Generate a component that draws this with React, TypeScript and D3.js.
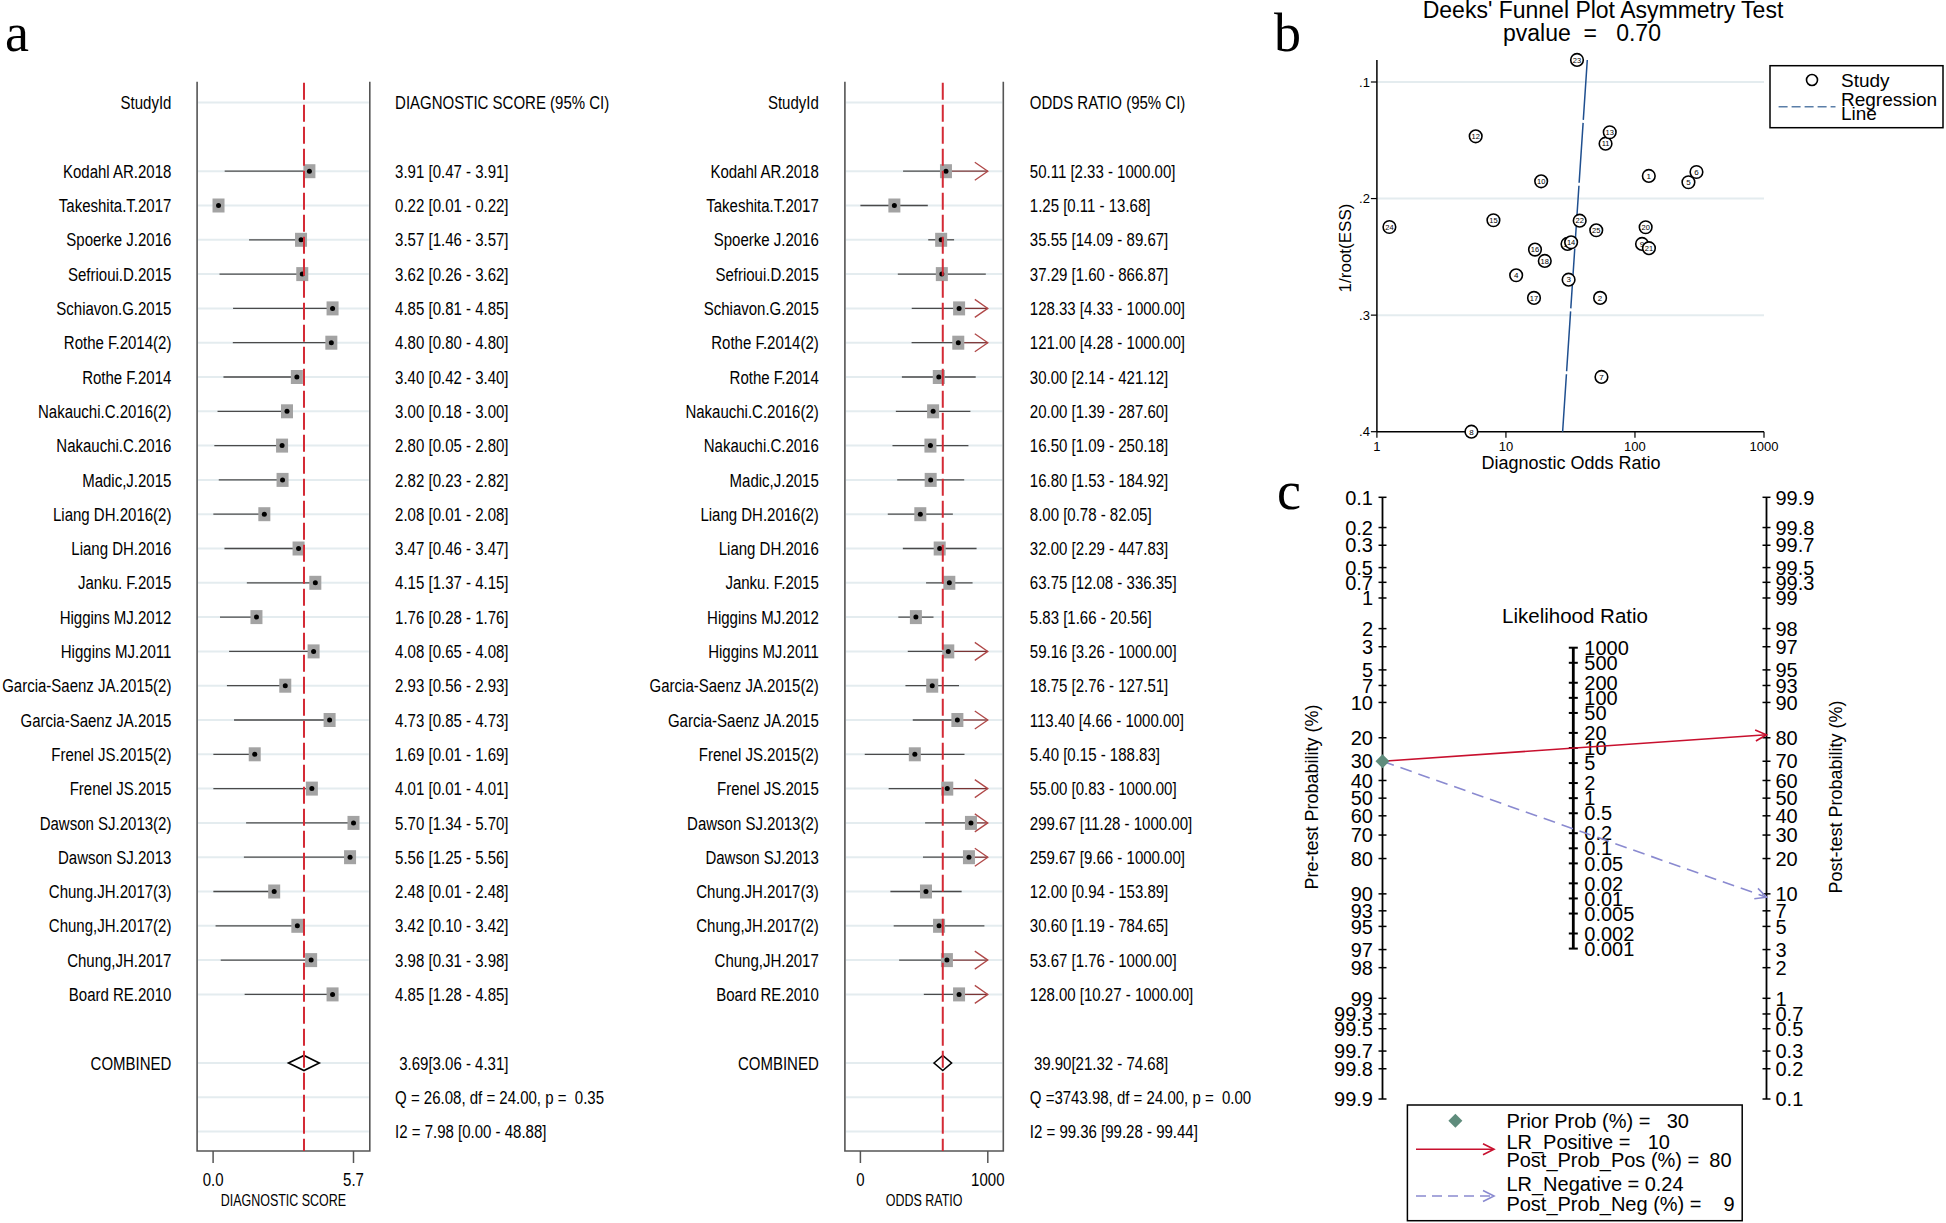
import React from "react";
import * as d3 from "d3";

// ---------------- DATA ----------------
const studyIds = [
  "Kodahl AR.2018", "Takeshita.T.2017", "Spoerke J.2016", "Sefrioui.D.2015", "Schiavon.G.2015",
  "Rothe F.2014(2)", "Rothe F.2014", "Nakauchi.C.2016(2)", "Nakauchi.C.2016", "Madic,J.2015",
  "Liang DH.2016(2)", "Liang DH.2016", "Janku. F.2015", "Higgins MJ.2012", "Higgins MJ.2011",
  "Garcia-Saenz JA.2015(2)", "Garcia-Saenz JA.2015", "Frenel JS.2015(2)", "Frenel JS.2015",
  "Dawson SJ.2013(2)", "Dawson SJ.2013", "Chung.JH.2017(3)", "Chung,JH.2017(2)", "Chung,JH.2017",
  "Board RE.2010",
];
const dsEst = [3.91, 0.22, 3.57, 3.62, 4.85, 4.80, 3.40, 3.00, 2.80, 2.82, 2.08, 3.47, 4.15, 1.76, 4.08, 2.93, 4.73, 1.69, 4.01, 5.70, 5.56, 2.48, 3.42, 3.98, 4.85];
const dsLow = [0.47, 0.01, 1.46, 0.26, 0.81, 0.80, 0.42, 0.18, 0.05, 0.23, 0.01, 0.46, 1.37, 0.28, 0.65, 0.56, 0.85, 0.01, 0.01, 1.34, 1.25, 0.01, 0.10, 0.31, 1.28];
const dsHigh = [3.91, 0.22, 3.57, 3.62, 4.85, 4.80, 3.40, 3.00, 2.80, 2.82, 2.08, 3.47, 4.15, 1.76, 4.08, 2.93, 4.73, 1.69, 4.01, 5.70, 5.56, 2.48, 3.42, 3.98, 4.85];
const dsCombined = [3.69, 3.06, 4.31];
const dsStats = ["Q = 26.08, df = 24.00, p =  0.35", "I2 = 7.98 [0.00 - 48.88]"];
const dsTickValues = [0, 5.7];
const dsTickLabels = ["0.0", "5.7"];

const orEst = [50.11, 1.25, 35.55, 37.29, 128.33, 121.00, 30.00, 20.00, 16.50, 16.80, 8.00, 32.00, 63.75, 5.83, 59.16, 18.75, 113.40, 5.40, 55.00, 299.67, 259.67, 12.00, 30.60, 53.67, 128.00];
const orLow = [2.33, 0.11, 14.09, 1.60, 4.33, 4.28, 2.14, 1.39, 1.09, 1.53, 0.78, 2.29, 12.08, 1.66, 3.26, 2.76, 4.66, 0.15, 0.83, 11.28, 9.66, 0.94, 1.19, 1.76, 10.27];
const orHigh = [1000, 13.68, 89.67, 866.87, 1000, 1000, 421.12, 287.60, 250.18, 184.92, 82.05, 447.83, 336.35, 20.56, 1000, 127.51, 1000, 188.83, 1000, 1000, 1000, 153.89, 784.65, 1000, 1000];
const orCombined = [39.90, 21.32, 74.68];
const orStats = ["Q =3743.98, df = 24.00, p =  0.00", "I2 = 99.36 [99.28 - 99.44]"];
const orTickValues = [0.11, 1000];
const orTickLabels = ["0", "1000"];

// Deeks' funnel plot (study numbers 1..25)
const funnelDOR = [128.00, 53.67, 30.60, 12.00, 259.67, 299.67, 55.00, 5.40, 113.40, 18.75, 59.16, 5.83, 63.75, 32.00, 8.00, 16.80, 16.50, 20.00, 30.00, 121.00, 128.33, 37.29, 35.55, 1.25, 50.11];
const funnelInvRootESS = [0.1806, 0.2852, 0.2696, 0.2658, 0.1860, 0.1772, 0.3530, 0.400, 0.2389, 0.1852, 0.1529, 0.1466, 0.1431, 0.2375, 0.2186, 0.2438, 0.2852, 0.2535, 0.2389, 0.2246, 0.2426, 0.2190, 0.0811, 0.2244, 0.2272];
const regressionDOR = [42.7, 27.5];
const regressionY = [0.0811, 0.4];
const funnelXTicks = [1, 10, 100, 1000];
const funnelYTicks = [0.1, 0.2, 0.3, 0.4];
const funnelYTickLabels = [".1", ".2", ".3", ".4"];
const pValue = "0.70";

// Fagan nomogram
const preTicks = [0.1, 0.2, 0.3, 0.5, 0.7, 1, 2, 3, 5, 7, 10, 20, 30, 40, 50, 60, 70, 80, 90, 93, 95, 97, 98, 99, 99.3, 99.5, 99.7, 99.8, 99.9];
const postTicks = [99.9, 99.8, 99.7, 99.5, 99.3, 99, 98, 97, 95, 93, 90, 80, 70, 60, 50, 40, 30, 20, 10, 7, 5, 3, 2, 1, 0.7, 0.5, 0.3, 0.2, 0.1];
const lrTicks = [1000, 500, 200, 100, 50, 20, 10, 5, 2, 1, 0.5, 0.2, 0.1, 0.05, 0.02, 0.01, 0.005, 0.002, 0.001];
const priorProb = 30;
const lrPositive = 10;
const lrNegative = 0.24;
const postProbPos = 80;
const postProbNeg = 9;

// ---------------- STYLE ----------------
const SANS = "'Liberation Sans',Arial,Helvetica,sans-serif";
const SERIF = "'Liberation Serif','Times New Roman',serif";
const GRID = "#e4ecef";
const RED = "#d42a35";
const NARROW_K = 0.79;

const rowY = d3.scaleLinear().domain([0, 30]).range([102.6, 1131.6]);

function NText(props: { x: number; y: number; size: number; anchor?: string; children: any; pre?: boolean }) {
  return (
    <text
      transform={`translate(${props.x},${props.y}) scale(${NARROW_K},1)`}
      dy="0.35em"
      textAnchor={props.anchor || "start"}
      fontFamily={SANS}
      fontSize={props.size}
      style={props.pre ? { whiteSpace: "pre" } : undefined}
    >
      {props.children}
    </text>
  );
}

type ForestProps = {
  x: any;
  frameL: number;
  frameR: number;
  labelX: number;
  textX: number;
  combTextX: number;
  header: string;
  axisTitle: string;
  est: number[];
  low: number[];
  high: number[];
  comb: number[];
  stats: string[];
  tickValues: number[];
  tickLabels: string[];
  cap: number;
};

function Forest(p: ForestProps) {
  const top = 81.7;
  const bottom = 1151;
  const FS = 19;
  const fmt = (v: number) => v.toFixed(2);
  const gridRows = [0, ...studyIds.map((_, i) => i + 2), 28, 29, 30];
  const cy = rowY(28);
  const cx = p.x(p.comb[0]);
  const cl = p.x(p.comb[1]);
  const cr = p.x(p.comb[2]);
  return (
    <g>
      {gridRows.map((r) => (
        <line key={"g" + r} x1={p.frameL + 1} x2={p.frameR - 1} y1={rowY(r)} y2={rowY(r)} stroke={GRID} strokeWidth={2} />
      ))}
      <path d={`M${p.frameL},${top}V${bottom}H${p.frameR}V${top}`} fill="none" stroke="#555" strokeWidth={1.6} />
      <NText x={p.labelX} y={rowY(0)} size={FS} anchor="end">StudyId</NText>
      <NText x={p.textX} y={rowY(0)} size={FS}>{p.header}</NText>
      {studyIds.map((s, i) => {
        const y = rowY(i + 2);
        const xe = p.x(p.est[i]);
        const xl = p.x(p.low[i]);
        const capped = p.high[i] >= p.cap;
        const xh = p.x(Math.min(p.high[i], p.cap));
        return (
          <g key={s}>
            <NText x={p.labelX} y={y} size={FS} anchor="end">{s}</NText>
            <NText x={p.textX} y={y} size={FS}>{`${fmt(p.est[i])} [${fmt(p.low[i])} - ${fmt(p.high[i])}]`}</NText>
            {capped ? (
              <g>
                <line x1={xl} x2={xe} y1={y} y2={y} stroke="#4a4a4a" strokeWidth={1.3} />
                <line x1={xe} x2={xh} y1={y} y2={y} stroke="#7a3434" strokeWidth={1.3} />
                <path d={`M${xh - 13},${y - 9}L${xh},${y}L${xh - 13},${y + 9}`} fill="none" stroke="#b04848" strokeWidth={1.3} />
              </g>
            ) : (
              <line x1={xl} x2={xh} y1={y} y2={y} stroke="#4a4a4a" strokeWidth={1.3} />
            )}
            <rect x={xe - 6} y={y - 7} width={12} height={14} fill="#a3a3a3" />
            <circle cx={xe} cy={y} r={2.5} fill="#000" />
          </g>
        );
      })}
      <NText x={p.labelX} y={cy} size={FS} anchor="end">COMBINED</NText>
      <path d={`M${cl},${cy}L${cx},${cy - 7.5}L${cr},${cy}L${cx},${cy + 7.5}Z`} fill="#fff" stroke="#000" strokeWidth={1.6} />
      <NText x={p.combTextX} y={cy} size={FS}>{`${fmt(p.comb[0])}[${fmt(p.comb[1])} - ${fmt(p.comb[2])}]`}</NText>
      {p.stats.map((s, k) => (
        <NText key={s} x={p.textX} y={rowY(29 + k)} size={FS} pre>{s}</NText>
      ))}
      <line x1={cx} x2={cx} y1={top + 1} y2={bottom} stroke={RED} strokeWidth={2} strokeDasharray="17 5" />
      {p.tickValues.map((v, k) => (
        <g key={"t" + k}>
          <line x1={p.x(v)} x2={p.x(v)} y1={bottom} y2={bottom + 12} stroke="#555" strokeWidth={1.5} />
          <NText x={p.x(v)} y={1179} size={FS} anchor="middle">{p.tickLabels[k]}</NText>
        </g>
      ))}
      <NText x={(p.frameL + p.frameR) / 2} y={1200} size={15.8} anchor="middle">{p.axisTitle}</NText>
    </g>
  );
}

function Funnel() {
  const x = d3.scaleLog().domain([1, 1000]).range([1376.9, 1764]);
  const y = d3.scaleLinear().domain([0.1, 0.4]).range([82, 431.7]);
  const yTop = y(0.0811);
  const order = d3.range(25).sort((a, b) => (a === 13 ? 1 : b === 13 ? -1 : a - b));
  const reg = d3.line<number>().x((i) => x(regressionDOR[i])).y((i) => y(regressionY[i]));
  return (
    <g>
      <text x={1603} y={18} textAnchor="middle" fontFamily={SANS} fontSize={23}>Deeks' Funnel Plot Asymmetry Test</text>
      <text x={1503} y={41} fontFamily={SANS} fontSize={23} style={{ whiteSpace: "pre" }}>{`pvalue  =   ${pValue}`}</text>
      {funnelYTicks.slice(0, 3).map((t) => (
        <line key={t} x1={x(1)} x2={x(1000)} y1={y(t)} y2={y(t)} stroke={GRID} strokeWidth={2} />
      ))}
      <line x1={x(1)} x2={x(1)} y1={yTop} y2={y(0.4)} stroke="#000" strokeWidth={1.5} />
      <line x1={x(1)} x2={x(1000)} y1={y(0.4)} y2={y(0.4)} stroke="#000" strokeWidth={1.5} />
      {funnelYTicks.map((t, k) => (
        <g key={"yt" + t}>
          <line x1={x(1) - 6} x2={x(1)} y1={y(t)} y2={y(t)} stroke="#000" strokeWidth={1.2} />
          <text x={x(1) - 7} y={y(t)} dy="0.35em" textAnchor="end" fontFamily={SANS} fontSize={13}>{funnelYTickLabels[k]}</text>
        </g>
      ))}
      {funnelXTicks.map((t) => (
        <g key={"xt" + t}>
          <line x1={x(t)} x2={x(t)} y1={y(0.4)} y2={y(0.4) + 6} stroke="#000" strokeWidth={1.2} />
          <text x={x(t)} y={446} dy="0.35em" textAnchor="middle" fontFamily={SANS} fontSize={13}>{t}</text>
        </g>
      ))}
      <text x={1571} y={463} dy="0.35em" textAnchor="middle" fontFamily={SANS} fontSize={18}>Diagnostic Odds Ratio</text>
      <text transform={`translate(1345,248) rotate(-90)`} dy="0.35em" textAnchor="middle" fontFamily={SANS} fontSize={17}>1/root(ESS)</text>
      <path d={reg([0, 1]) || ""} fill="none" stroke="#1f4f8f" strokeWidth={1.5} strokeDasharray="60 3" />
      {order.map((i) => (
        <g key={"pt" + i}>
          <circle cx={x(funnelDOR[i])} cy={y(funnelInvRootESS[i])} r={6.3} fill="#fff" stroke="#000" strokeWidth={1.6} />
          <text x={x(funnelDOR[i])} y={y(funnelInvRootESS[i])} dy="0.35em" textAnchor="middle" fontFamily={SANS} fontSize={i + 1 >= 10 ? 7.5 : 8}>{i + 1}</text>
        </g>
      ))}
      <rect x={1770} y={65.7} width={173} height={62} fill="#fff" stroke="#000" strokeWidth={1.5} />
      <circle cx={1812} cy={80} r={5.5} fill="#fff" stroke="#000" strokeWidth={1.6} />
      <text x={1841} y={80} dy="0.35em" fontFamily={SANS} fontSize={19}>Study</text>
      <line x1={1778.6} x2={1835.5} y1={106.7} y2={106.7} stroke="#5a7ea8" strokeWidth={1.5} strokeDasharray="9 4" />
      <text x={1841} y={99} dy="0.35em" fontFamily={SANS} fontSize={19}>Regression</text>
      <text x={1841} y={113} dy="0.35em" fontFamily={SANS} fontSize={19}>Line</text>
    </g>
  );
}

function Fagan() {
  const xL = 1382.5;
  const xM = 1573.3;
  const xR = 1766.5;
  const lg = d3.scaleLinear().domain([-Math.log(999), Math.log(999)]).range([497.3, 1099]);
  const logit = (pct: number) => Math.log(pct / (100 - pct));
  const yPre = (pct: number) => lg(logit(pct));
  const yPost = (pct: number) => lg(-logit(pct));
  const yLR = (lr: number) => lg(-Math.log(lr) / 2);
  const postFrom = (lr: number) => {
    const o = (priorProb / (100 - priorProb)) * lr;
    return (100 * o) / (1 + o);
  };
  const y0 = yPre(priorProb);
  const yPos = yPost(postFrom(lrPositive));
  const yNeg = yPost(postFrom(lrNegative));
  const chevron = (tx: number, ty: number, ang: number) => {
    const L = 11, H = 5.5;
    const c = Math.cos(ang), s = Math.sin(ang);
    const p1 = [tx - L * c + H * s, ty - L * s - H * c];
    const p2 = [tx - L * c - H * s, ty - L * s + H * c];
    return `M${p1[0]},${p1[1]}L${tx},${ty}L${p2[0]},${p2[1]}`;
  };
  const angPos = Math.atan2(yPos - y0, xR - xL);
  const angNeg = Math.atan2(yNeg - y0, xR - xL);
  const FS = 20;
  return (
    <g>
      <line x1={xL} x2={xL} y1={yPre(0.1)} y2={yPre(99.9)} stroke="#000" strokeWidth={1.8} />
      <line x1={xR} x2={xR} y1={yPost(99.9)} y2={yPost(0.1)} stroke="#000" strokeWidth={1.8} />
      <line x1={xM} x2={xM} y1={yLR(1000)} y2={yLR(0.001)} stroke="#000" strokeWidth={2.8} />
      {preTicks.map((t) => (
        <g key={"pre" + t}>
          <line x1={xL - 4} x2={xL + 4} y1={yPre(t)} y2={yPre(t)} stroke="#000" strokeWidth={1.5} />
          <text x={xL - 9.5} y={yPre(t)} dy="0.36em" textAnchor="end" fontFamily={SANS} fontSize={FS}>{t}</text>
        </g>
      ))}
      {postTicks.map((t) => (
        <g key={"post" + t}>
          <line x1={xR - 4} x2={xR + 4} y1={yPost(t)} y2={yPost(t)} stroke="#000" strokeWidth={1.5} />
          <text x={xR + 9} y={yPost(t)} dy="0.36em" fontFamily={SANS} fontSize={FS}>{t}</text>
        </g>
      ))}
      {lrTicks.map((t) => (
        <g key={"lr" + t}>
          <line x1={xM - 4.5} x2={xM + 4.5} y1={yLR(t)} y2={yLR(t)} stroke="#000" strokeWidth={2} />
          <text x={xM + 11} y={yLR(t)} dy="0.36em" fontFamily={SANS} fontSize={FS}>{t}</text>
        </g>
      ))}
      <text x={1575} y={616} dy="0.35em" textAnchor="middle" fontFamily={SANS} fontSize={20.5}>Likelihood Ratio</text>
      <text transform="translate(1312,797) rotate(-90)" dy="0.35em" textAnchor="middle" fontFamily={SANS} fontSize={18}>Pre-test Probability (%)</text>
      <text transform="translate(1836,797) rotate(-90)" dy="0.35em" textAnchor="middle" fontFamily={SANS} fontSize={18}>Post-test Probability (%)</text>
      <line x1={xL} y1={y0} x2={xR} y2={yPos} stroke="#c8102e" strokeWidth={1.6} />
      <path d={chevron(xR, yPos, angPos)} fill="none" stroke="#c8102e" strokeWidth={1.6} />
      <line x1={xL} y1={y0} x2={xR} y2={yNeg} stroke="#8a8ad0" strokeWidth={1.6} strokeDasharray="12 7" />
      <path d={chevron(xR, yNeg, angNeg)} fill="none" stroke="#8a8ad0" strokeWidth={1.6} />
      <path d={`M${xL},${y0 - 7}L${xL + 7},${y0}L${xL},${y0 + 7}L${xL - 7},${y0}Z`} fill="#5f8c7c" />
      <rect x={1407.4} y={1105} width={334.8} height={115.7} fill="#fff" stroke="#000" strokeWidth={1.5} />
      <path d={`M1455.4,1113.7L1462.4,1120.7L1455.4,1127.7L1448.4,1120.7Z`} fill="#5f8c7c" />
      <line x1={1416} x2={1493} y1={1149.3} y2={1149.3} stroke="#c8102e" strokeWidth={1.6} />
      <path d={chevron(1494, 1149.3, 0)} fill="none" stroke="#c8102e" strokeWidth={1.6} />
      <line x1={1416} x2={1493} y1={1196} y2={1196} stroke="#8a8ad0" strokeWidth={1.6} strokeDasharray="10 6" />
      <path d={chevron(1494, 1196, 0)} fill="none" stroke="#8a8ad0" strokeWidth={1.6} />
      <g fontFamily={SANS} fontSize={20}>
        <text x={1506.4} y={1120.7} dy="0.35em">Prior Prob (%) =</text>
        <text x={1689} y={1120.7} dy="0.35em" textAnchor="end">{priorProb}</text>
        <text x={1506.4} y={1141.7} dy="0.35em">LR_Positive =</text>
        <text x={1670} y={1141.7} dy="0.35em" textAnchor="end">{lrPositive}</text>
        <text x={1506.4} y={1160} dy="0.35em">Post_Prob_Pos (%) =</text>
        <text x={1731.6} y={1160} dy="0.35em" textAnchor="end">{postProbPos}</text>
        <text x={1506.4} y={1184} dy="0.35em">LR_Negative =</text>
        <text x={1683.6} y={1184} dy="0.35em" textAnchor="end">{lrNegative}</text>
        <text x={1506.4} y={1204} dy="0.35em">Post_Prob_Neg (%) =</text>
        <text x={1734.5} y={1204} dy="0.35em" textAnchor="end">{postProbNeg}</text>
      </g>
    </g>
  );
}

export default function App() {
  const xDS = d3.scaleLinear().domain([0, 5.7]).range([213.1, 353.5]);
  const xOR = d3.scaleLog().domain([0.11, 1000]).range([860.4, 987.8]);
  return (
    <svg width={1946} height={1223} style={{ position: "absolute", left: 0, top: 0, background: "#fff" }}>
      <rect width={1946} height={1223} fill="#fff" />
      <text x={5} y={51} fontFamily={SERIF} fontSize={54}>a</text>
      <text x={1274} y={51} fontFamily={SERIF} fontSize={54}>b</text>
      <text x={1277} y={509} fontFamily={SERIF} fontSize={54}>c</text>
      <Forest x={xDS} frameL={197.1} frameR={369.8} labelX={171.4} textX={395.1} combTextX={399.2}
        header="DIAGNOSTIC SCORE (95% CI)" axisTitle="DIAGNOSTIC SCORE" est={dsEst} low={dsLow} high={dsHigh}
        comb={dsCombined} stats={dsStats} tickValues={dsTickValues} tickLabels={dsTickLabels} cap={1e9} />
      <Forest x={xOR} frameL={844.9} frameR={1003.3} labelX={818.8} textX={1029.8} combTextX={1033.9}
        header="ODDS RATIO (95% CI)" axisTitle="ODDS RATIO" est={orEst} low={orLow} high={orHigh}
        comb={orCombined} stats={orStats} tickValues={orTickValues} tickLabels={orTickLabels} cap={1000} />
      <Funnel />
      <Fagan />
    </svg>
  );
}
